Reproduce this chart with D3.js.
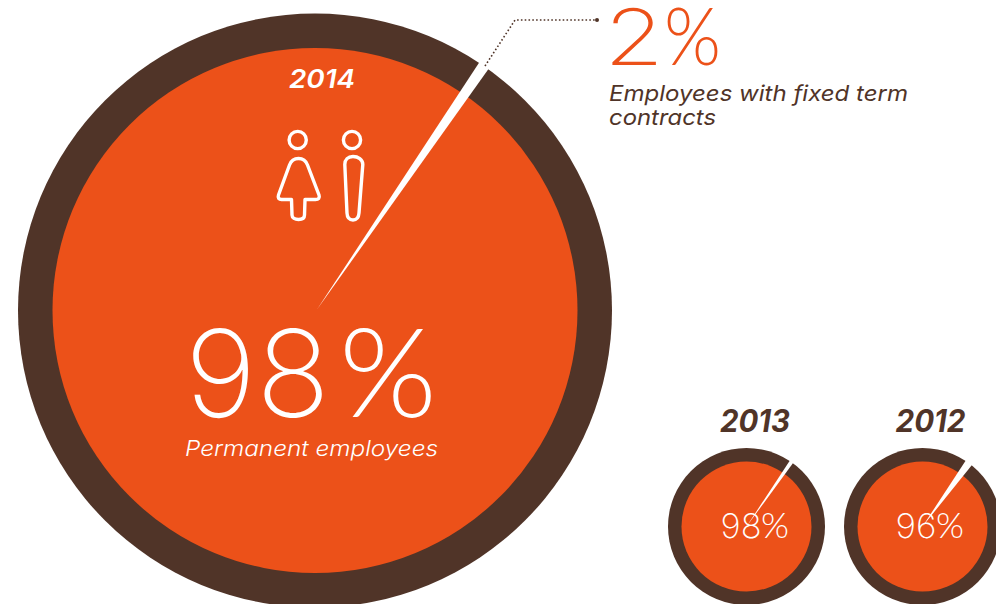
<!DOCTYPE html>
<html><head><meta charset="utf-8">
<script src="https://cdn.jsdelivr.net/npm/d3@7"></script>
<style>html,body{margin:0;padding:0;background:#fff;overflow:hidden}svg{display:block}text{font-family:Inter,Lato,sans-serif}</style>
</head><body><svg id="c" width="996" height="604"></svg>
<script>
const years = ["2014","2013","2012"];
const permanent = [98,98,96];
const fixedTerm = [2,2,4];
const permanentLabel = "Permanent employees";
const fixedLines = ["Employees with fixed term","contracts"];

const ORANGE="#ec5119", BROWN="#503428";
const layout = [
 {cx:315,cy:310.5,R:297,r:262.5,deg:34.4,perPct:1.1,apex:[2,-1]},
 {cx:746.5,cy:526.5,R:78.5,r:65,deg:34.8,perPct:1.5,apex:[0,0]},
 {cx:922.5,cy:526.5,R:78.5,r:65,deg:36,perPct:1.4,apex:[0,0]}
];
const svg=d3.select("#c");
const txt=(x,y,s,o)=>{const t=svg.append("text").attr("x",x).attr("y",y).text(s)
  .attr("font-size",o.size).attr("fill",o.fill).attr("font-weight",o.weight||400)
  .attr("font-style",o.italic?"italic":"normal").attr("text-anchor",o.anchor||"start");
  if(o.family)t.style("font-family",o.family);
  if(o.len)t.attr("textLength",o.len).attr("lengthAdjust","spacingAndGlyphs");return t;};
// digits and percent sign are set separately so each can match the reference's wide geometric shapes
const pct=(v,y,size,fill,dx,dl,px,pl,sp)=>{
  txt(dx,y,String(v),{size,fill,weight:200,len:dl});
  txt(px,y,"%",{size:sp,fill,weight:300,family:"Lato",len:pl});
};

years.forEach((y,i)=>{
  const L=layout[i];
  const g=svg.append("g").attr("transform",`translate(${L.cx},${L.cy})`);
  g.append("circle").attr("r",L.R).attr("fill",BROWN);
  g.append("circle").attr("r",L.r).attr("fill",ORANGE);
  const a=d3.scaleLinear().domain([0,1]).range([0,L.perPct*Math.PI/180]);
  const mid=L.deg*Math.PI/180, w=a(fixedTerm[i]);
  const arc=d3.arc().innerRadius(0).outerRadius(L.R+2);
  g.append("path").attr("transform",`translate(${L.apex})`).attr("fill","#fff")
    .attr("d",arc({startAngle:mid-w/2,endAngle:mid+w/2}));
});

// leader
svg.append("path").attr("d",d3.line()([[485,66],[515,20],[597,20]])).attr("fill","none")
  .attr("stroke",BROWN).attr("stroke-width",1.6).attr("stroke-dasharray","1.6 2.2");
svg.append("circle").attr("cx",597).attr("cy",20).attr("r",2).attr("fill",BROWN);

// icons
const icons=svg.append("g").attr("fill","none").attr("stroke","#fff").attr("stroke-width",3.4).attr("stroke-linejoin","round");
icons.append("circle").attr("cx",297.700).attr("cy",140).attr("r",8.6);
icons.append("circle").attr("cx",352).attr("cy",140).attr("r",8.6);
icons.append("path").attr("d","M298.500 158.500C293 158.500 291 161 289.500 165L278.500 195C277.500 198 279 199.500 281.500 199.500L291.500 199.500L292 215C292 218 295 219.500 298.500 219.500C302 219.500 304.500 218 304.500 215L305 199.500L315.500 199.500C318.500 199.500 320 198 319 195L307.500 165C306 161 304 158.500 298.500 158.500Z");
icons.append("path").attr("d","M353 156.500C348 156.500 344.800 159.500 344.800 164.500L347 213C347.200 217.500 349.500 220 353 220C356.500 220 358.700 217.500 359 213L362.800 164.500C362.800 159.500 358 156.500 353 156.500Z");

// text
txt(322,88,years[0],{size:26,fill:"#fff",weight:600,italic:true,anchor:"middle",len:66});
pct(permanent[0],416.5,121,"#fff",185,145,339,98,124);
txt(185,456,permanentLabel,{size:22,fill:"#fff",weight:300,italic:true,len:253});
pct(fixedTerm[0],65,78,ORANGE,604,60,664,57,80);
txt(609,101,fixedLines[0],{size:22,fill:BROWN,weight:400,italic:true,len:299});
txt(609,125,fixedLines[1],{size:22,fill:BROWN,weight:400,italic:true,len:107});
pct(permanent[1],537.5,34,"#fff",720.500,41,761,28,35);
pct(permanent[2],537.5,34,"#fff",895.500,41,936,28,35);
txt(755,432,years[1],{size:31,fill:BROWN,weight:700,italic:true,anchor:"middle",len:70});
txt(930.5,432,years[2],{size:31,fill:BROWN,weight:700,italic:true,anchor:"middle",len:70});
</script></body></html>
